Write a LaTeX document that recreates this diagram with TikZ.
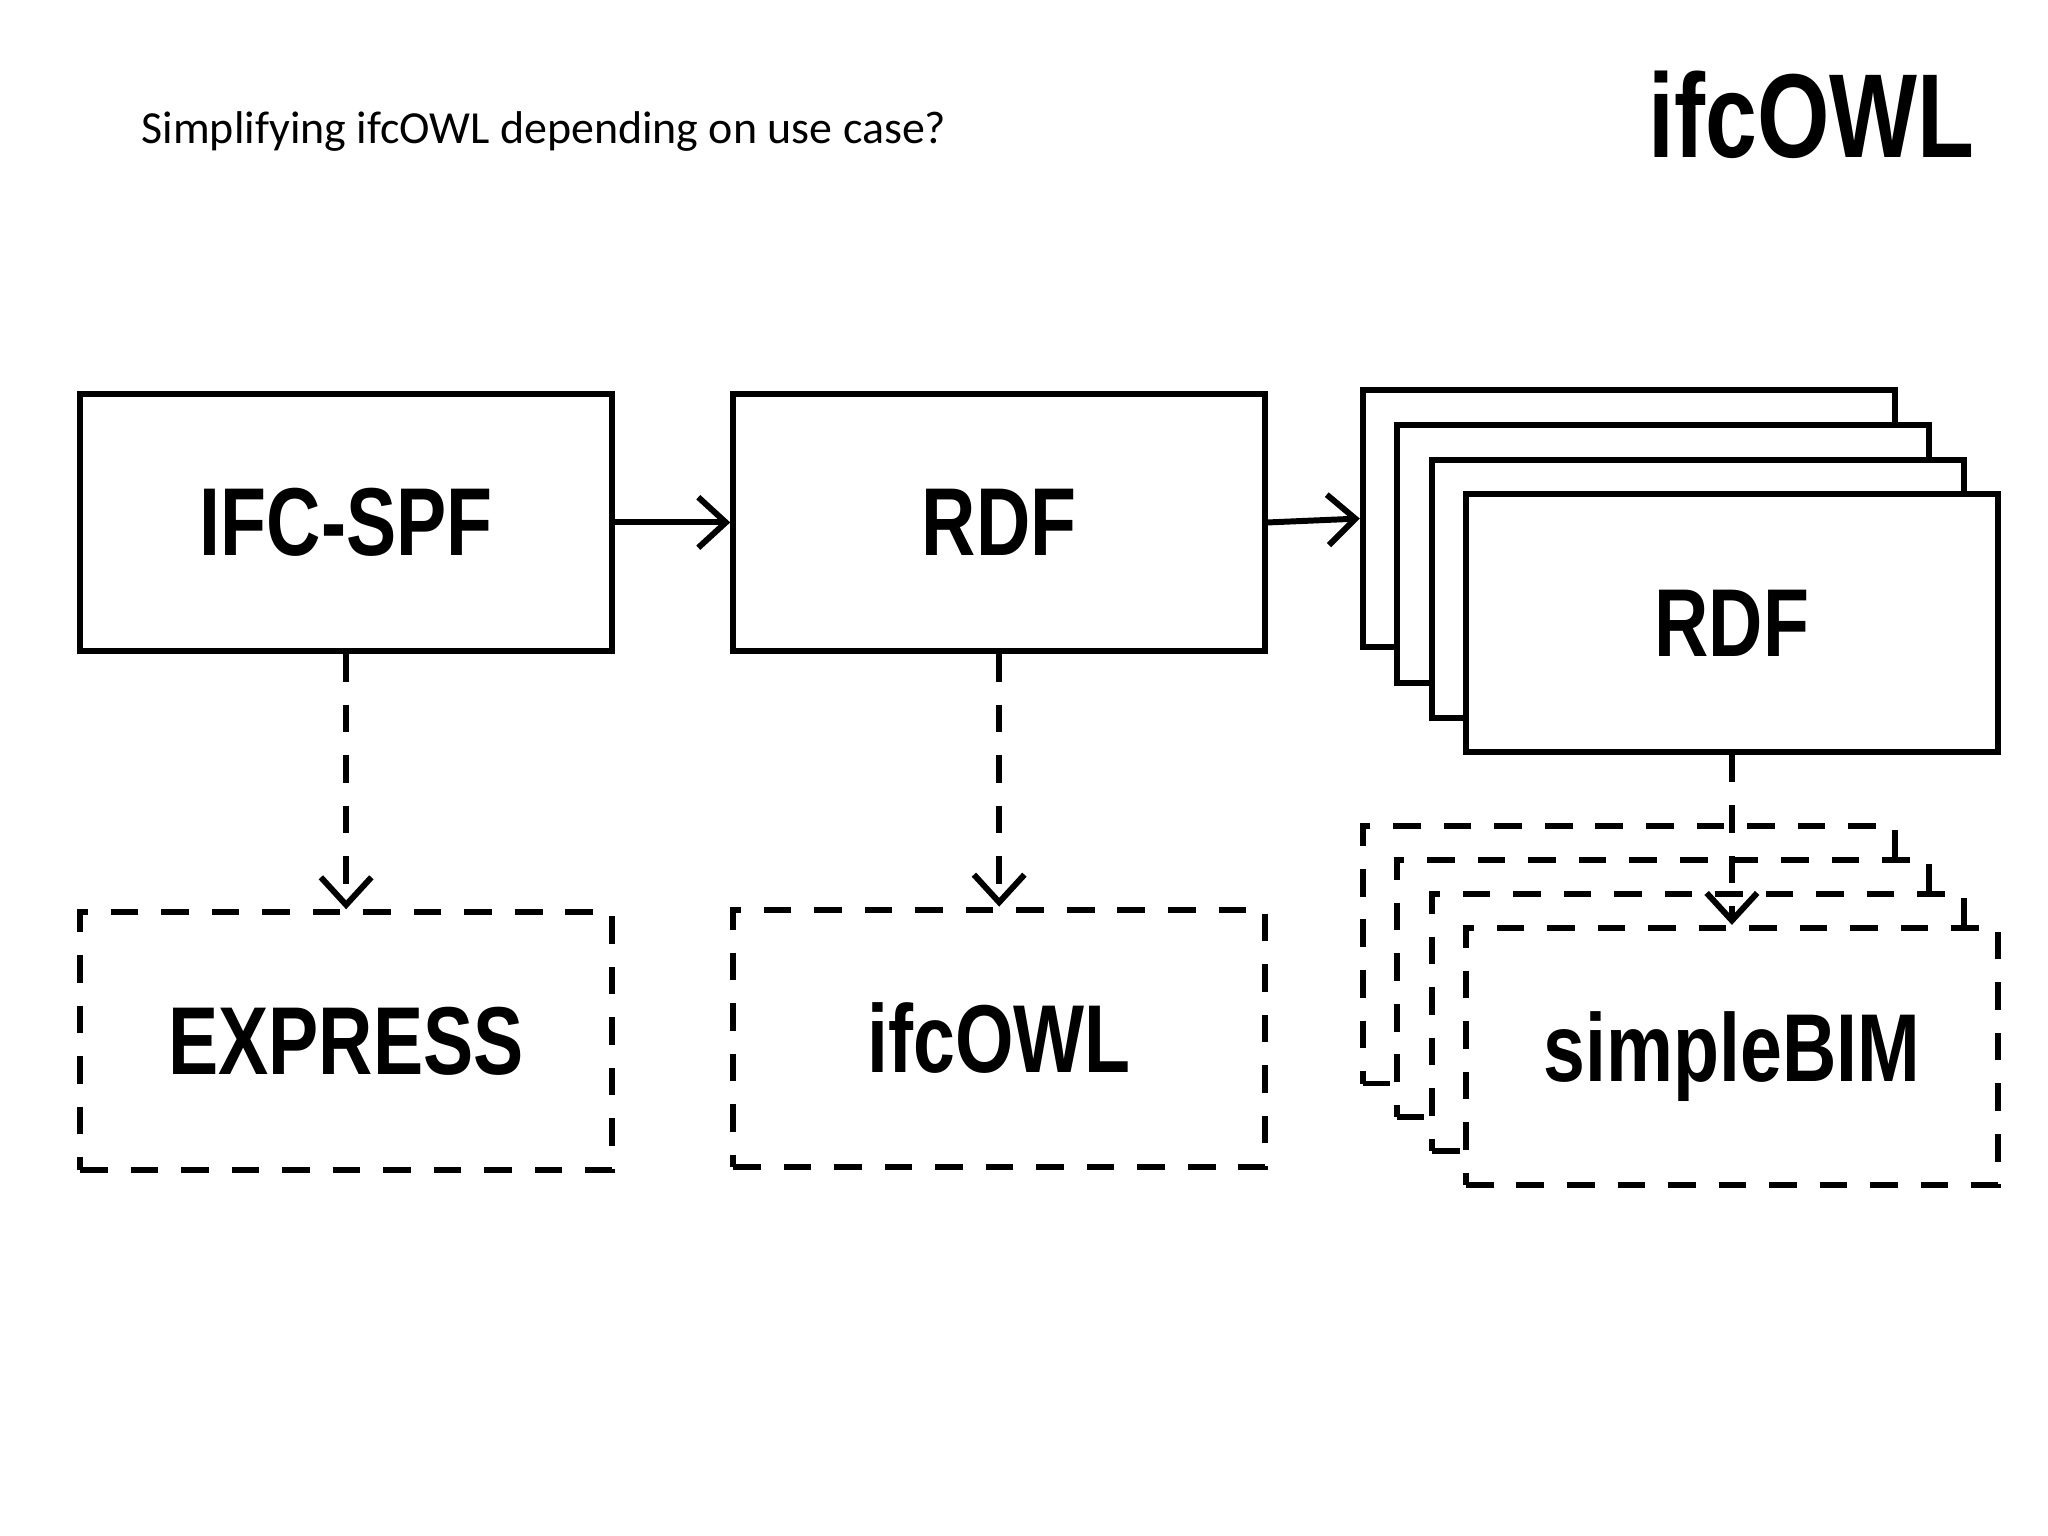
\documentclass[tikz,border=0pt]{standalone}
\usepackage{fontspec}
\setmainfont{Carlito}
\newfontfamily\cond{Liberation Sans}[FakeStretch=0.78]
\usetikzlibrary{arrows.meta}
\begin{document}
\begin{tikzpicture}[x=0.01cm,y=-0.01cm,
  box/.style={draw,line width=1.3pt,fill=white,minimum width=4.07cm,minimum height=1.97cm,inner sep=0pt,font=\cond\bfseries\fontsize{21}{24}\selectfont},
  dbox/.style={box,dash pattern=on 6pt off 5pt},
  arr/.style={line width=1.3pt,-{Straight Barb[length=6pt,width=11pt]}},
  darr/.style={arr,dash pattern=on 6pt off 5pt}]
\useasboundingbox (0,0) rectangle (1568,1176);
\node[anchor=west,font=\fontsize{10}{12}\selectfont] (title) at (96,101) {Simplifying ifcOWL depending on use case?};
\node[anchor=east,font=\cond\bfseries\fontsize{26}{30}\selectfont] (logo) at (1524,88) {ifcOWL};
\node[box] (a) at (265,400) {IFC-SPF};
\node[box] (b) at (765,400) {RDF};
\node[box] (c1) at (1247,397) {};
\node[box] (c2) at (1273,424) {};
\node[box] (c3) at (1300,451) {};
\node[box] (c) at (1326,477) {RDF};
\node[dbox] (d) at (265,797) {EXPRESS};
\node[dbox] (e) at (765,795) {ifcOWL};
\node[dbox] (f1) at (1247,731) {};
\node[dbox] (f2) at (1273,757) {};
\node[dbox] (f3) at (1300,783) {};
\node[dbox] (f) at (1326,809) {simpleBIM};
\draw[arr] (a.east) -- (b.west);
\draw[arr] (b.east) -- (c1.west);
\draw[darr] (a.south) -- (d.north);
\draw[darr] (b.south) -- (e.north);
\draw[darr] (c.south) -- (f.north);
\end{tikzpicture}
\end{document}
